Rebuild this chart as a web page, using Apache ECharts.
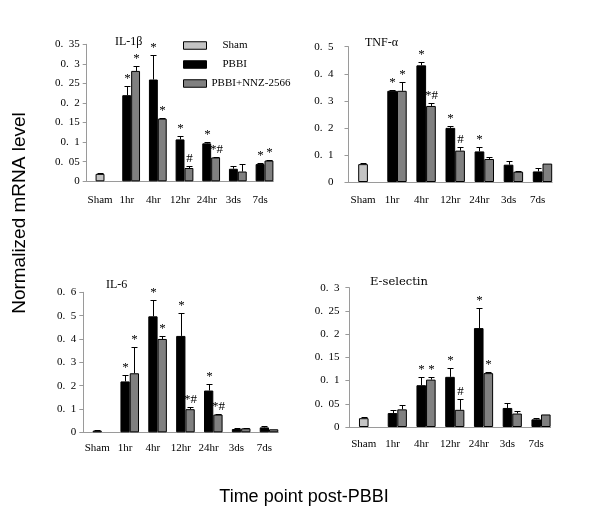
<!DOCTYPE html>
<html><head><meta charset="utf-8">
<script src="https://cdn.jsdelivr.net/npm/echarts@6/dist/echarts.min.js"></script>
<style>html,body{margin:0;padding:0;background:#fff}#c{width:600px;height:513px}</style>
</head><body><div id="c"></div>
<script>
const categories = ['Sham', '1hr', '4hr', '12hr', '24hr', '3ds', '7ds'];
const seriesNames = ['Sham', 'PBBI', 'PBBI+NNZ-2566'];

// IL-1β
const il1bSham = 0.019, il1bShamErr = 0.002;
const il1bPBBI = [0.220, 0.260, 0.107, 0.097, 0.032, 0.044];
const il1bPBBIErr = [0.024, 0.063, 0.010, 0.004, 0.006, 0.003];
const il1bNNZ = [0.282, 0.160, 0.034, 0.061, 0.025, 0.053];
const il1bNNZErr = [0.013, 0.002, 0.005, 0.001, 0.019, 0.001];
const il1bPBBIMark = ['*', '*', '*', '*', '', '*'];
const il1bNNZMark = ['*', '*', '#', '*#', '', '*'];

// TNF-α
const tnfSham = 0.066, tnfShamErr = 0.006;
const tnfPBBI = [0.337, 0.431, 0.200, 0.113, 0.064, 0.039];
const tnfPBBIErr = [0.003, 0.011, 0.008, 0.017, 0.012, 0.011];
const tnfNNZ = [0.337, 0.281, 0.116, 0.085, 0.038, 0.068];
const tnfNNZErr = [0.032, 0.012, 0.012, 0.009, 0.004, 0];
const tnfPBBIMark = ['*', '*', '*', '*', '', ''];
const tnfNNZMark = ['*', '*#', '#', '', '', ''];

// IL-6
const il6Sham = 0.007, il6ShamErr = 0.001;
const il6PBBI = [0.218, 0.497, 0.413, 0.179, 0.014, 0.021];
const il6PBBIErr = [0.027, 0.071, 0.097, 0.026, 0.003, 0.007];
const il6NNZ = [0.253, 0.400, 0.099, 0.076, 0.017, 0.013];
const il6NNZErr = [0.111, 0.014, 0.011, 0.003, 0.003, 0];
const il6PBBIMark = ['*', '*', '*', '*', '', ''];
const il6NNZMark = ['*', '*', '*#', '*#', '', ''];

// E-selectin
const eselSham = 0.019, eselShamErr = 0.003;
const eselPBBI = [0.030, 0.090, 0.108, 0.213, 0.041, 0.0165];
const eselPBBIErr = [0.006, 0.018, 0.018, 0.043, 0.011, 0.003];
const eselNNZ = [0.038, 0.102, 0.037, 0.116, 0.029, 0.027];
const eselNNZErr = [0.009, 0.005, 0.024, 0.003, 0.006, 0];
const eselPBBIMark = ['', '*', '*', '*', '', ''];
const eselNNZMark = ['', '*', '#', '*', '', ''];

const panels = [
  {title: 'IL-1β', sham: il1bSham, shamErr: il1bShamErr, pbbi: il1bPBBI, pbbiErr: il1bPBBIErr, nnz: il1bNNZ, nnzErr: il1bNNZErr, pm: il1bPBBIMark, nm: il1bNNZMark, max: 0.35, interval: 0.05,
   grid: {left: 86.7, top: 44.3, width: 186.7, height: 137}, tpos: {left: 115, top: 36}, tfont: 'Liberation Serif', ym: 7, xm: 13},
  {title: 'TNF-α', sham: tnfSham, shamErr: tnfShamErr, pbbi: tnfPBBI, pbbiErr: tnfPBBIErr, nnz: tnfNNZ, nnzErr: tnfNNZErr, pm: tnfPBBIMark, nm: tnfNNZMark, max: 0.5, interval: 0.1,
   grid: {left: 348.5, top: 46.7, width: 203.7, height: 135.3}, tpos: {left: 365, top: 37}, tfont: 'Liberation Serif', ym: 15, xm: 13},
  {title: 'IL-6', sham: il6Sham, shamErr: il6ShamErr, pbbi: il6PBBI, pbbiErr: il6PBBIErr, nnz: il6NNZ, nnzErr: il6NNZErr, pm: il6PBBIMark, nm: il6NNZMark, max: 0.6, interval: 0.1,
   grid: {left: 83.3, top: 292.3, width: 195, height: 140}, tpos: {left: 106, top: 279}, tfont: 'Liberation Serif', ym: 7, xm: 10},
  {title: 'E-selectin', sham: eselSham, shamErr: eselShamErr, pbbi: eselPBBI, pbbiErr: eselPBBIErr, nnz: eselNNZ, nnzErr: eselNNZErr, pm: eselPBBIMark, nm: eselNNZMark, max: 0.3, interval: 0.05,
   grid: {left: 349.4, top: 287.7, width: 201.2, height: 139.3}, tpos: {left: 370, top: 276}, tfont: 'DejaVu Serif', ym: 10, xm: 12}
];

const colors = {Sham: '#c4c4c4', PBBI: '#000000', NNZ: '#808080'};
const axisGray = '#9a9a9a';
const tickFont = 'Liberation Serif';

function errRender(marks) {
  return function (params, api) {
    const cat = api.value(0), v = api.value(1), e = api.value(2), slot = api.value(3);
    const w = api.size([1, 0])[0] / 3;
    const base = api.coord([cat, v]);
    const top = api.coord([cat, v + e]);
    const x = Math.round(base[0] + slot * w) + 0.5;
    const ty = Math.round(top[1]) + 0.5;
    const children = [];
    if (e > 0) {
      children.push({type: 'line', shape: {x1: x, y1: base[1], x2: x, y2: ty}, style: {stroke: '#000', lineWidth: 1}});
      children.push({type: 'line', shape: {x1: x - 3, y1: ty, x2: x + 3, y2: ty}, style: {stroke: '#000', lineWidth: 1}});
    }
    const m = marks[params.dataIndex];
    if (m) {
      children.push({type: 'text', x: x, y: ty - 1, style: {text: m, align: 'center', verticalAlign: 'bottom', font: '13px "Liberation Serif"', fill: '#000'}});
    }
    return {type: 'group', children: children};
  };
}

const grids = [], xAxes = [], yAxes = [], series = [], titles = [];
panels.forEach(function (p, i) {
  grids.push(Object.assign({containLabel: false}, p.grid));
  titles.push({text: p.title, left: p.tpos.left, top: p.tpos.top, padding: 0,
    textStyle: {fontFamily: p.tfont, fontSize: p.tfont === 'DejaVu Serif' ? 11.5 : 12, fontWeight: 'normal', color: '#000'}});
  xAxes.push({type: 'category', gridIndex: i, data: categories, boundaryGap: true,
    axisLine: {lineStyle: {color: axisGray}},
    axisTick: {inside: true, length: 4, lineStyle: {color: axisGray}, alignWithLabel: false},
    axisLabel: {fontFamily: tickFont, fontSize: 11, color: '#000', margin: p.xm, interval: 0}});
  yAxes.push({type: 'value', gridIndex: i, min: 0, max: p.max, interval: p.interval,
    axisLine: {show: true, lineStyle: {color: axisGray}},
    axisTick: {show: true, inside: false, length: 4, lineStyle: {color: axisGray}},
    splitLine: {show: false},
    axisLabel: {fontFamily: tickFont, fontSize: 11, color: '#000', margin: p.ym,
      formatter: function (v) { return v === 0 ? '0' : String(+v.toFixed(2)).replace('.', '.\u2002'); }}});
  const bs = {borderColor: '#000', borderWidth: 1};
  series.push({type: 'bar', name: 'slot' + i, xAxisIndex: i, yAxisIndex: i, data: [], barGap: 0, barCategoryGap: 0, silent: true});
  series.push({type: 'bar', name: 'Sham', stack: 'mid' + i, xAxisIndex: i, yAxisIndex: i, barGap: 0, barCategoryGap: 0,
    itemStyle: Object.assign({color: colors.Sham}, bs),
    data: [p.sham].concat(p.pbbi.map(function () { return null; }))});
  series.push({type: 'bar', name: 'PBBI', stack: 'mid' + i, xAxisIndex: i, yAxisIndex: i, barGap: 0, barCategoryGap: 0,
    itemStyle: Object.assign({color: colors.PBBI}, bs),
    data: [null].concat(p.pbbi)});
  series.push({type: 'bar', name: 'PBBI+NNZ-2566', xAxisIndex: i, yAxisIndex: i, barGap: 0, barCategoryGap: 0,
    itemStyle: Object.assign({color: colors.NNZ}, bs),
    data: [null].concat(p.nnz)});
  const errData = [[0, p.sham, p.shamErr, 0]];
  const marks = [''];
  p.pbbi.forEach(function (v, k) {
    errData.push([k + 1, v, p.pbbiErr[k], 0]); marks.push(p.pm[k]);
    errData.push([k + 1, p.nnz[k], p.nnzErr[k], 1]); marks.push(p.nm[k]);
  });
  series.push({type: 'custom', xAxisIndex: i, yAxisIndex: i, renderItem: errRender(marks), data: errData, z: 5, silent: true});
});

const chart = echarts.init(document.getElementById('c'), null, {renderer: 'canvas'});
chart.setOption({
  animation: false,
  backgroundColor: '#fff',
  title: titles,
  grid: grids,
  xAxis: xAxes,
  yAxis: yAxes,
  legend: {
    data: seriesNames, orient: 'vertical', left: 183, top: 40, padding: 0,
    itemWidth: 23, itemHeight: 7.5, itemGap: 8, icon: 'rect', selectedMode: false,
    itemStyle: {borderColor: '#000', borderWidth: 1},
    textStyle: {fontFamily: 'Liberation Serif', fontSize: 11, color: '#000'},
    formatter: function (n) { return n === 'PBBI+NNZ-2566' ? n : '\u2002\u2002' + n; }
  },
  graphic: [
    {type: 'text', x: 20, y: 213, rotation: Math.PI / 2,
     style: {text: 'Normalized mRNA level', font: '19px "Liberation Sans"', fill: '#000', align: 'center', verticalAlign: 'middle'}},
    {type: 'text', x: 304, y: 497,
     style: {text: 'Time point post-PBBI', font: '18px "Liberation Sans"', fill: '#000', align: 'center', verticalAlign: 'middle'}}
  ],
  series: series
});
</script></body></html>
